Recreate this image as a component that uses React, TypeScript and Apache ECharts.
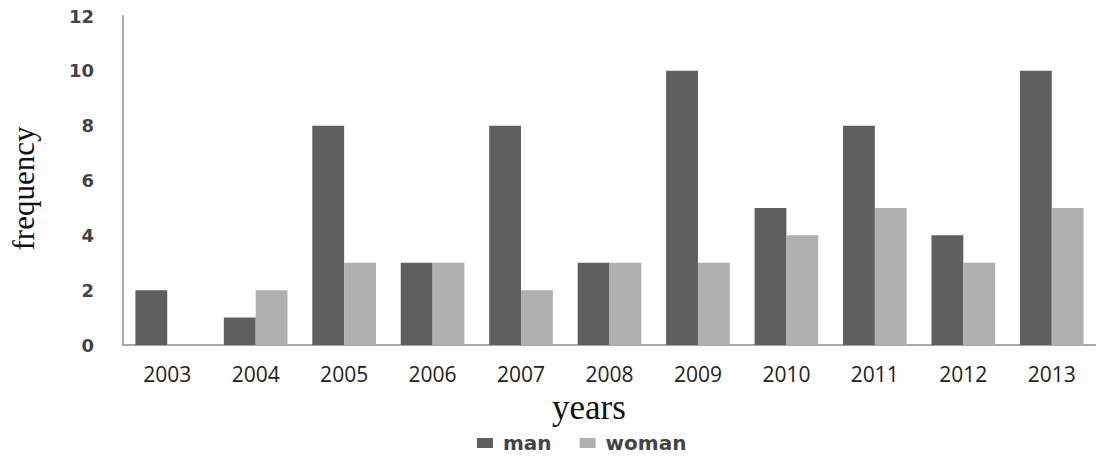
import React, { useEffect, useRef } from "react";
import * as echarts from "echarts";

const years = ["2003", "2004", "2005", "2006", "2007", "2008", "2009", "2010", "2011", "2012", "2013"];
const manValues = [2, 1, 8, 3, 8, 3, 10, 5, 8, 4, 10];
const womanValues = [0, 2, 3, 3, 2, 3, 3, 4, 5, 3, 5];
const seriesNames = ["man", "woman"];

export default function App() {
  const ref = useRef<HTMLDivElement>(null);
  useEffect(() => {
    if (!ref.current) return;
    const chart = echarts.init(ref.current, undefined, { renderer: "svg" });
    chart.setOption({
      animation: false,
      backgroundColor: "#ffffff",
      title: {
        text: "years",
        left: 552,
        top: 390,
        padding: 0,
        textStyle: { fontFamily: "Liberation Serif", fontSize: 35, fontWeight: "normal", color: "#111" },
      },
      legend: {
        data: seriesNames,
        left: 477,
        top: 433,
        padding: 0,
        itemWidth: 16,
        itemHeight: 10,
        itemGap: 28,
        icon: "rect",
        textStyle: { fontFamily: "DejaVu Sans", fontSize: 20, fontWeight: "bold", color: "#444", padding: [0, 0, 0, 5] },
      },
      grid: { left: 115, right: 0, top: 16, bottom: 111, containLabel: false },
      xAxis: {
        type: "category",
        data: years,
        axisLine: { show: true, lineStyle: { color: "#a8a8a8", width: 2 } },
        axisTick: { show: false },
        axisLabel: { margin: 18, fontFamily: "Open Sans", fontSize: 21, color: "#222" },
      },
      yAxis: {
        type: "value",
        min: 0,
        max: 12,
        interval: 2,
        name: "frequency",
        nameLocation: "middle",
        nameGap: 84,
        nameTextStyle: { fontFamily: "Liberation Serif", fontSize: 31, color: "#111", padding: [0, 16, 0, 0] },
        axisLine: { show: true, lineStyle: { color: "#a8a8a8", width: 2 } },
        axisTick: { show: false },
        splitLine: { show: false },
        axisLabel: { margin: 29, fontFamily: "DejaVu Sans", fontSize: 18, fontWeight: "bold", color: "#444" },
      },
      series: [
        {
          name: "man",
          type: "bar",
          data: manValues,
          barWidth: "36%",
          barGap: "0%",
          itemStyle: { color: "#5f5f5f" },
        },
        {
          name: "woman",
          type: "bar",
          data: womanValues,
          barWidth: "36%",
          barGap: "0%",
          itemStyle: { color: "#b0b0b0" },
        },
      ],
    });
    return () => chart.dispose();
  }, []);
  return (
    <div
      ref={ref}
      style={{ position: "fixed", left: 0, top: 0, width: 1096, height: 456 }}
    />
  );
}
